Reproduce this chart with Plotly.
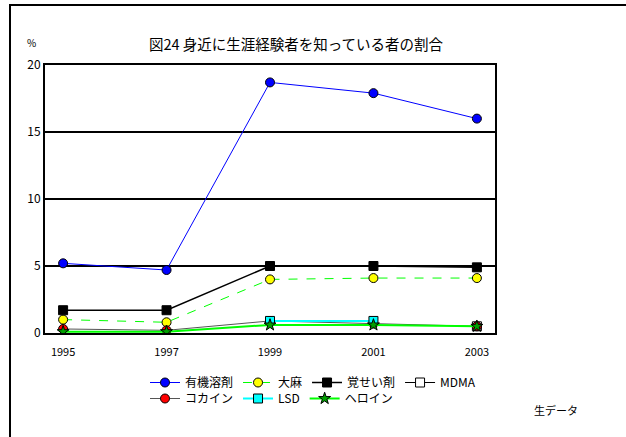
import plotly.graph_objects as go

years = [1995, 1997, 1999, 2001, 2003]
tick_labels = ["1995", "1997", "1999", "2001", "2003"]

organic = [5.2, 4.7, 18.7, 17.9, 16.0]      # 有機溶剤
cannabis = [1.0, 0.8, 4.0, 4.1, 4.1]        # 大麻
stimulant = [1.7, 1.7, 5.0, 5.0, 4.9]       # 覚せい剤
mdma = [None, None, None, None, 0.5]        # MDMA
cocaine = [0.3, 0.2, 0.9, 0.7, 0.5]         # コカイン
lsd = [None, None, 0.9, 0.9, None]          # LSD
heroin = [0.1, 0.1, 0.6, 0.6, 0.5]          # ヘロイン

FONT = "Noto Sans CJK JP"
W, H = 626, 437
L, R, T, B = 45, 131, 65, 104
pw, ph = W - L - R, H - T - B

def px2x(px):
    return (px - L) / pw

def py2y(py):
    return (H - B - py) / ph

fig = go.Figure()

def add(name, y, color, symbol, fill, dash="solid", legend="legend", lw=1, ms=9):
    fig.add_trace(go.Scatter(
        x=years, y=y, name=name, mode="lines+markers",
        line=dict(color=color, width=lw, dash=dash),
        marker=dict(symbol=symbol, size=ms, color=fill, line=dict(color="black", width=1)),
        legend=legend, connectgaps=False,
    ))

add("有機溶剤", organic, "#0000FF", "circle", "#0000FF")
add("大麻", cannabis, "#00FF00", "circle", "#FFFF00", dash="dash")
add("覚せい剤", stimulant, "black", "square", "black", lw=1.5)
add("MDMA", mdma, "black", "square", "white")
add("コカイン", cocaine, "#555555", "circle", "#FF0000", legend="legend2")
add("LSD", lsd, "#00FFFF", "square", "#00FFFF", legend="legend2", lw=2)
add("ヘロイン", heroin, "#00FF00", "star", "#00A000", legend="legend2", lw=2)

fig.update_layout(
    width=W, height=H,
    margin=dict(l=L, r=R, t=T, b=B),
    paper_bgcolor="white", plot_bgcolor="white",
    font=dict(family=FONT, size=11, color="black"),
    showlegend=True,
    xaxis=dict(
        range=[1994.65, 2003.35], tickvals=years, ticktext=tick_labels,
        showgrid=False, zeroline=False, showline=True, linecolor="black", linewidth=2,
        mirror=True, ticks="", ticklabelstandoff=8, tickfont=dict(size=11, family=FONT),
    ),
    yaxis=dict(
        range=[0, 20], dtick=5, showgrid=True, gridcolor="black", gridwidth=2,
        zeroline=False, showline=True, linecolor="black", linewidth=2, mirror=True,
        ticks="", tickfont=dict(size=12, family=FONT),
    ),
    legend=dict(orientation="h", x=px2x(145), y=py2y(368), xanchor="left", yanchor="top",
                itemwidth=30, font=dict(size=12, family=FONT), bgcolor="rgba(0,0,0,0)",
                tracegroupgap=0),
    legend2=dict(orientation="h", x=px2x(145), y=py2y(384), xanchor="left", yanchor="top",
                 itemwidth=30, font=dict(size=12, family=FONT), bgcolor="rgba(0,0,0,0)",
                 tracegroupgap=0),
    annotations=[
        dict(text="図24 身近に生涯経験者を知っている者の割合", xref="paper", yref="paper",
             x=px2x(296), y=py2y(44), showarrow=False, font=dict(size=14.5, family=FONT),
             xanchor="center", yanchor="middle"),
        dict(text="%", xref="paper", yref="paper", x=px2x(31), y=py2y(42), showarrow=False,
             font=dict(size=10, family=FONT), xanchor="center", yanchor="middle"),
        dict(text="生データ", xref="paper", yref="paper", x=px2x(556), y=py2y(410),
             showarrow=False, font=dict(size=11, family=FONT), xanchor="center", yanchor="middle"),
    ],
    shapes=[
        dict(type="rect", xref="paper", yref="paper", x0=px2x(10), y0=py2y(H + 20),
             x1=px2x(W + 20), y1=py2y(5), line=dict(color="black", width=2), layer="below"),
    ],
)

fig.write_html("out.html", config={"displayModeBar": False},
               post_script="document.body.style.margin='0';document.body.style.overflow='hidden';")
